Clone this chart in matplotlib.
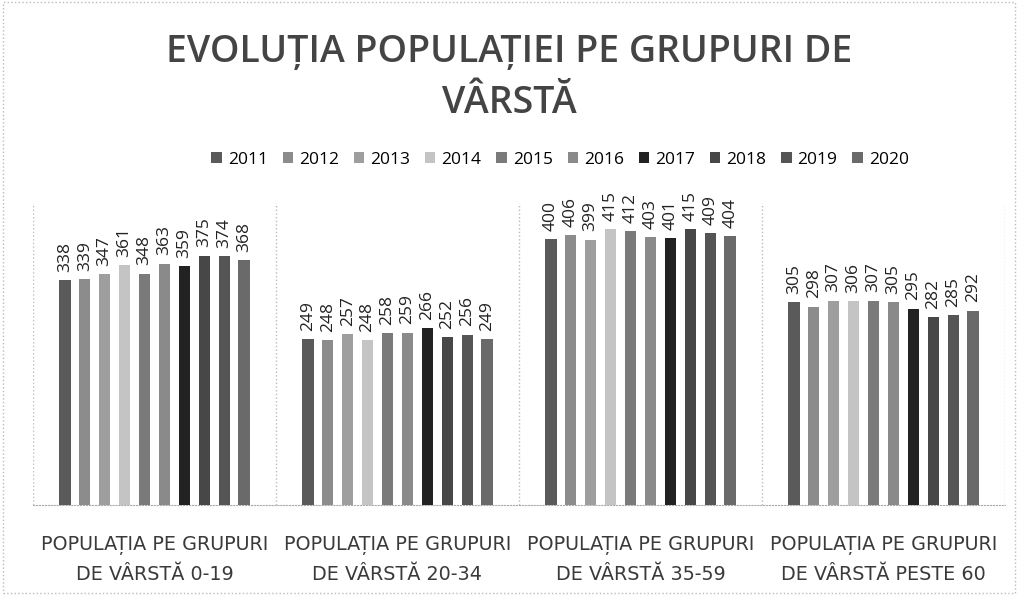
import matplotlib
matplotlib.use("Agg")
import matplotlib.pyplot as plt
import numpy as np

categories = ["POPULAȚIA PE GRUPURI\nDE VÂRSTĂ 0-19",
              "POPULAȚIA PE GRUPURI\nDE VÂRSTĂ 20-34",
              "POPULAȚIA PE GRUPURI\nDE VÂRSTĂ 35-59",
              "POPULAȚIA PE GRUPURI\nDE VÂRSTĂ PESTE 60"]
years = ["2011", "2012", "2013", "2014", "2015", "2016", "2017", "2018", "2019", "2020"]
values = {
    "2011": [338, 249, 400, 305],
    "2012": [339, 248, 406, 298],
    "2013": [347, 257, 399, 307],
    "2014": [361, 248, 415, 306],
    "2015": [348, 258, 412, 307],
    "2016": [363, 259, 403, 305],
    "2017": [359, 266, 401, 295],
    "2018": [375, 252, 415, 282],
    "2019": [374, 256, 409, 285],
    "2020": [368, 249, 404, 292],
}
colors = ["#5a5a5a", "#8c8c8c", "#9e9e9e", "#c4c4c4", "#7a7a7a",
          "#8a8a8a", "#222222", "#474747", "#555555", "#6a6a6a"]

fig = plt.figure(figsize=(10.18, 5.95), dpi=100)
ax = fig.add_axes([33/1018, 90/595, 972/1018, 302/595])

x = np.arange(len(categories))
slot = 0.082
width = 0.047
for i, y in enumerate(years):
    pos = x + (i - 4.5) * slot
    bars = ax.bar(pos, values[y], width=width, color=colors[i], label=y, zorder=3)
    for b, v in zip(bars, values[y]):
        ax.annotate(str(v), (b.get_x() + b.get_width() / 2, v), xytext=(0, 6),
                    textcoords="offset points", rotation=90,
                    ha="center", va="bottom", fontsize=12.5, color="#222222",
                    family="Open Sans")

ax.set_xlim(-0.5, 3.5)
ax.set_ylim(0, 454)
ax.set_yticks([])
ax.set_xticks(x)
ax.set_xticklabels(categories, fontsize=13.8, color="#3a3a3a", family="DejaVu Sans",
                   linespacing=1.7)
ax.tick_params(axis="x", length=0, pad=22)
for s in ["top", "right", "left"]:
    ax.spines[s].set_visible(False)
ax.spines["bottom"].set_color("#aaaaaa")
ax.spines["bottom"].set_linestyle(":")
for bx in [-0.5, 0.5, 1.5, 2.5, 3.5]:
    ax.axvline(bx, color="#bbbbbb", linestyle=":", linewidth=1, zorder=1)

fig.text(0.5, 1 - 52/595, "EVOLUȚIA POPULAȚIEI PE GRUPURI DE", ha="center", va="center",
         fontsize=27, color="#444444", family="Open Sans", fontweight="semibold")
fig.text(0.5, 1 - 103/595, "VÂRSTĂ", ha="center", va="center",
         fontsize=27, color="#444444", family="Open Sans", fontweight="semibold")

handles, labels = ax.get_legend_handles_labels()
fig.legend(handles, labels, loc="center", bbox_to_anchor=(560/1018, 1 - 160/595), ncol=10,
           frameon=False, handlelength=0.6, handleheight=0.6,
           handletextpad=0.35, columnspacing=0.85, prop={"family": "Open Sans", "size": 12.5})

border = plt.Rectangle((0.003, 0.003), 0.994, 0.994, transform=fig.transFigure,
                       fill=False, edgecolor="#bbbbbb", linestyle=":", linewidth=1)
fig.patches.append(border)

fig.savefig("out.png", dpi=100)
